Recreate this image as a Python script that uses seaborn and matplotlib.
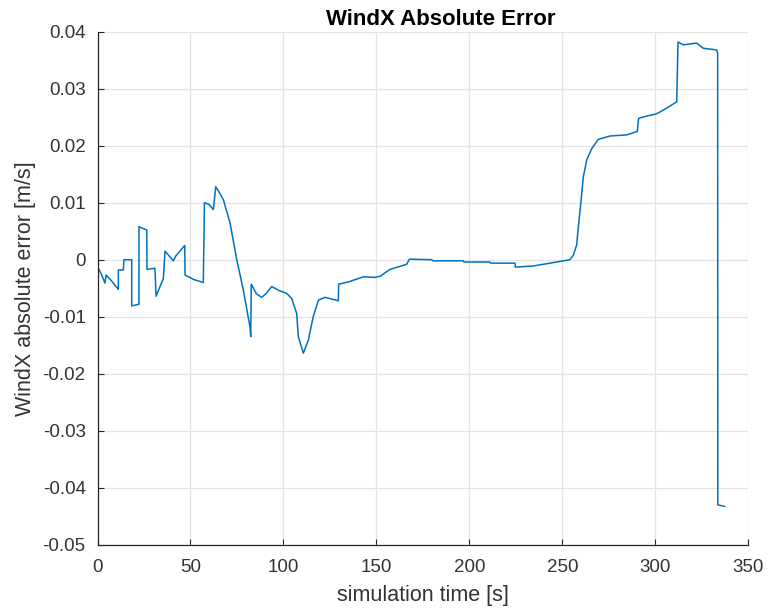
import matplotlib
matplotlib.use("Agg")
import matplotlib.pyplot as plt
import seaborn as sns
import numpy as np
import pandas as pd

# WindX absolute error over simulation time
time_s = [0, 2, 4, 4.6, 7, 11.2, 11.2, 13.9, 14.2, 18.4, 18.4, 22.3, 22.3, 26.5,
          26.6, 30.9, 31.5, 35.4, 36.3, 40.8, 42, 46.9, 47.1, 52, 56.9, 57.5,
          60, 62.3, 63.6, 65.5, 67.7, 71.3, 74.9, 78.4, 82, 82.4, 82.7, 85.5,
          88.3, 90.5, 93.7, 97.5, 101.7, 104.4, 107.1, 108, 110.7, 113.4, 116,
          118.8, 122.4, 129.5, 129.7, 134.9, 143, 149.2, 152, 157.3, 166.3,
          167.7, 179.7, 180.5, 196.7, 197, 211, 211.5, 224.5, 224.7, 234.4,
          247, 254, 255.9, 257.7, 258.6, 259.9, 261.3, 263.1, 265.8, 269.3,
          275.6, 284.6, 290.3, 291, 295.4, 300.7, 306.1, 311.5, 312.2, 315,
          322.2, 325.8, 333, 333.5, 333.6, 337.4]
abs_error = [-0.0012, -0.0025, -0.0041, -0.0027, -0.0035, -0.0052, -0.0018,
             -0.0018, 0.0, 0.0, -0.0081, -0.0078, 0.0058, 0.0052, -0.0017,
             -0.0015, -0.0064, -0.0033, 0.0015, -0.0002, 0.0006, 0.0025,
             -0.0027, -0.0035, -0.0040, 0.0100, 0.0097, 0.0088, 0.0128, 0.0118,
             0.0105, 0.0064, 0.0, -0.0053, -0.0118, -0.0135, -0.0043, -0.0060,
             -0.0066, -0.0060, -0.0047, -0.0054, -0.0059, -0.0068, -0.0094,
             -0.0135, -0.0164, -0.0141, -0.0100, -0.0071, -0.0066, -0.0072,
             -0.0043, -0.0039, -0.0030, -0.0031, -0.0029, -0.0017, -0.0008,
             0.0001, 0.0, -0.0002, -0.0002, -0.0004, -0.0004, -0.0006, -0.0006,
             -0.0013, -0.0011, -0.0004, 0.0, 0.0008, 0.0026, 0.0058, 0.0099,
             0.0146, 0.0175, 0.0195, 0.0211, 0.0217, 0.0219, 0.0225, 0.0248,
             0.0252, 0.0256, 0.0266, 0.0277, 0.0382, 0.0377, 0.0380, 0.0371,
             0.0368, 0.0362, -0.0430, -0.0433]

x_ticks = [0, 50, 100, 150, 200, 250, 300, 350]
y_ticks = [-0.05, -0.04, -0.03, -0.02, -0.01, 0, 0.01, 0.02, 0.03, 0.04]
y_tick_labels = ["-0.05", "-0.04", "-0.03", "-0.02", "-0.01", "0",
                 "0.01", "0.02", "0.03", "0.04"]

sns.set_style("whitegrid")
plt.rcParams["font.family"] = ["Liberation Sans", "DejaVu Sans"]
plt.rcParams["axes.unicode_minus"] = False

df = pd.DataFrame({"t": time_s, "err": abs_error})

fig = plt.figure(figsize=(7.69, 6.11), dpi=100)
ax = fig.add_axes([0.1268, 0.1085, 0.8463, 0.8396])

sns.lineplot(data=df, x="t", y="err", sort=False, estimator=None,
             color="#0072BD", linewidth=1.1, ax=ax)

ax.set_xlim(0, 350)
ax.set_ylim(-0.05, 0.04)
ax.set_xticks(x_ticks)
ax.set_xticklabels([str(v) for v in x_ticks])
ax.set_yticks(y_ticks)
ax.set_yticklabels(y_tick_labels)

ax.grid(True, color="#e3e3e3", linewidth=0.9)
for side in ["top", "right"]:
    ax.spines[side].set_visible(False)
for side in ["left", "bottom"]:
    ax.spines[side].set_visible(True)
    ax.spines[side].set_color("#262626")
    ax.spines[side].set_linewidth(0.9)

ax.tick_params(axis="both", direction="in", length=4, width=0.8,
               colors="#262626", labelsize=13.5, labelcolor="#333333",
               left=True, bottom=True)
ax.tick_params(axis="x", pad=10)
ax.tick_params(axis="y", pad=8.5)

ax.set_xlabel("simulation time [s]", fontsize=15.5, color="#333333", labelpad=7)
ax.set_ylabel("WindX absolute error [m/s]", fontsize=15.5, color="#333333", labelpad=5)
ax.set_title("WindX Absolute Error", fontsize=16, fontweight="bold",
             color="black", x=0.528, pad=5)

fig.savefig("out.png", dpi=100)
